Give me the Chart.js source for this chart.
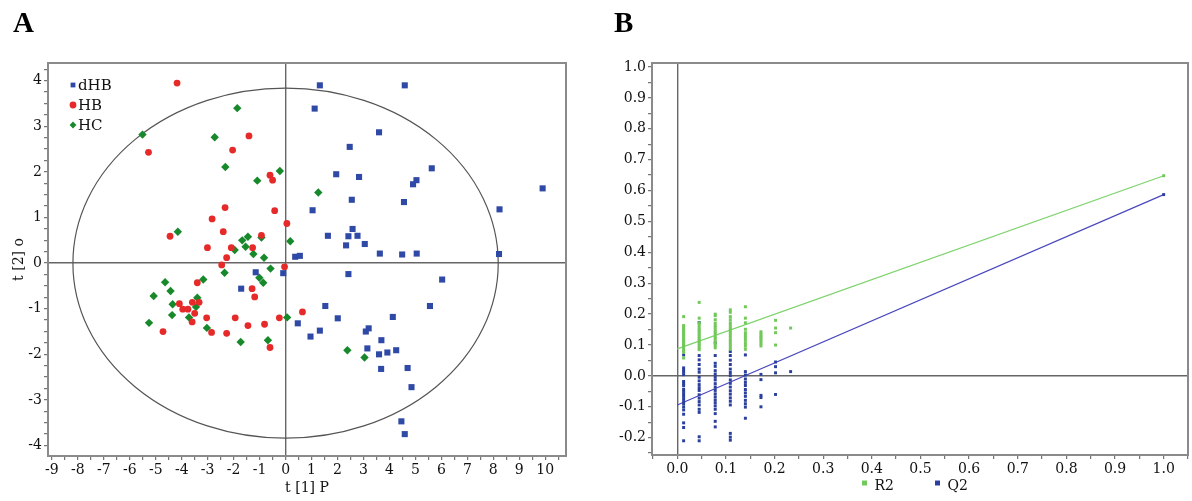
<!DOCTYPE html>
<html>
<head>
<meta charset="utf-8">
<script src="https://cdn.jsdelivr.net/npm/chart.js@4.4.1/dist/chart.umd.min.js"></script>
<style>
  body { margin: 0; background: #fff; }
  #wrap { position: relative; width: 1192px; height: 501px; }
  .panel { position: absolute; top: 0; width: 596px; height: 501px; }
  .tag { position: absolute; top: 8px; font: bold 29px/29px "Liberation Serif", serif; color: #000; }
</style>
</head>
<body>
<div id="wrap">
  <div class="panel" style="left:0"><canvas id="chartA" width="596" height="501"></canvas></div>
  <div class="panel" style="left:596px"><canvas id="chartB" width="596" height="501"></canvas></div>
  <div class="tag" style="left:13px">A</div>
  <div class="tag" style="left:614px">B</div>
</div>
<script>
// ---- panel A : score plot t[1]P vs t[2]o ----
const dhbX = [1.32, 4.59, 1.12, 3.60, 2.47, 5.63, 1.95, 2.83, 5.04, 4.91, 9.90, 2.55, 4.56, 1.04, 8.24, 2.58, 1.63, 2.42, 2.77, 3.05, 2.33, 3.63, 4.49, 5.05, 8.22, 0.37, 0.55, -0.09, -1.15, -1.71, 2.42, 6.03, 5.56, 1.53, 2.01, 4.13, 0.47, 1.32, 0.96, 3.09, 3.20, 3.69, 3.15, 3.60, 3.92, 4.26, 3.68, 4.70, 4.85, 4.46, 4.59];
const dhbY = [3.90, 3.90, 3.39, 2.87, 2.55, 2.08, 1.95, 1.89, 1.82, 1.73, 1.64, 1.39, 1.34, 1.16, 1.18, 0.75, 0.60, 0.59, 0.60, 0.42, 0.39, 0.21, 0.19, 0.21, 0.20, 0.14, 0.16, -0.22, -0.20, -0.56, -0.24, -0.36, -0.94, -0.94, -1.21, -1.18, -1.32, -1.48, -1.61, -1.50, -1.43, -1.69, -1.87, -2.00, -1.96, -1.91, -2.32, -2.30, -2.72, -3.47, -3.75];
const hbX = [-4.18, -5.28, -1.41, -2.04, -0.60, -0.50, -2.33, -0.42, -2.83, 0.05, -2.40, -4.45, -0.93, -3.01, -2.09, -1.27, -2.27, -2.46, -0.04, -3.40, -1.29, -1.19, -4.09, -3.59, -3.33, -3.96, -3.76, -3.50, -3.60, -3.04, -1.94, -0.24, -4.72, -2.85, -2.27, -1.45, -0.81, -0.60, 0.65];
const hbY = [3.95, 2.43, 2.79, 2.48, 1.93, 1.82, 1.22, 1.15, 0.97, 0.87, 0.69, 0.59, 0.61, 0.34, 0.34, 0.34, 0.12, -0.04, -0.08, -0.43, -0.56, -0.74, -0.89, -0.86, -0.86, -1.01, -1.01, -1.10, -1.29, -1.20, -1.20, -1.20, -1.50, -1.52, -1.54, -1.37, -1.34, -1.85, -1.07];
const hcX = [-5.51, -1.86, -2.73, -2.32, -1.09, -0.22, 1.26, -4.15, -1.67, -1.45, -0.93, 0.18, -1.54, -1.24, -0.83, -1.96, -2.35, -0.58, -3.17, -4.64, -4.43, -5.08, -1.01, -0.86, -3.40, -4.35, -3.45, -4.37, -3.72, -5.26, -3.03, -1.73, -0.68, 0.06, 2.38, 3.04];
const hcY = [2.82, 3.40, 2.76, 2.11, 1.81, 2.02, 1.55, 0.69, 0.50, 0.58, 0.56, 0.48, 0.36, 0.20, 0.12, 0.29, -0.21, -0.12, -0.36, -0.42, -0.61, -0.72, -0.32, -0.43, -0.76, -0.90, -0.96, -1.14, -1.19, -1.31, -1.42, -1.73, -1.69, -1.19, -1.91, -2.07];
const ellipseR = [8.19, 3.84]; // Hotelling T2 (95%)

// ---- panel B : permutation test ----
const permX = [0.013, 0.045, 0.078, 0.109, 0.140, 0.172, 0.202, 0.233];
const r2Perm = [
  [0.192, 0.163, 0.158, 0.152, 0.147, 0.141, 0.137, 0.133, 0.128, 0.122, 0.118, 0.113, 0.109, 0.104, 0.099, 0.094, 0.088, 0.082, 0.076, 0.058],
  [0.238, 0.187, 0.172, 0.165, 0.158, 0.151, 0.146, 0.140, 0.133, 0.127, 0.121, 0.116, 0.110, 0.104, 0.098, 0.091, 0.085],
  [0.200, 0.195, 0.182, 0.171, 0.163, 0.157, 0.149, 0.142, 0.136, 0.127, 0.121, 0.114, 0.106, 0.098, 0.091],
  [0.214, 0.206, 0.192, 0.182, 0.172, 0.164, 0.156, 0.149, 0.141, 0.133, 0.125, 0.117, 0.110, 0.102, 0.094, 0.086],
  [0.224, 0.187, 0.172, 0.151, 0.140, 0.131, 0.124, 0.115, 0.105, 0.096, 0.086],
  [0.143, 0.136, 0.130, 0.124, 0.119, 0.112, 0.105, 0.097],
  [0.180, 0.155, 0.140, 0.100],
  [0.155]
];
const q2Perm = [
  [0.068, 0.026, 0.019, 0.012, 0.004, -0.018, -0.024, -0.031, -0.043, -0.050, -0.058, -0.066, -0.074, -0.083, -0.090, -0.100, -0.110, -0.124, -0.152, -0.167, -0.210],
  [0.173, 0.066, 0.052, 0.037, 0.022, 0.012, -0.004, -0.016, -0.028, -0.038, -0.047, -0.061, -0.072, -0.083, -0.094, -0.108, -0.118, -0.197, -0.210],
  [0.107, 0.066, 0.041, 0.031, 0.017, 0.006, -0.004, -0.013, -0.025, -0.036, -0.047, -0.058, -0.068, -0.078, -0.087, -0.097, -0.108, -0.122, -0.147, -0.165],
  [0.079, 0.066, 0.051, 0.037, 0.022, 0.011, 0.001, -0.013, -0.024, -0.036, -0.048, -0.059, -0.071, -0.082, -0.094, -0.186, -0.198, -0.208],
  [0.068, 0.014, 0.003, -0.010, -0.021, -0.031, -0.044, -0.055, -0.066, -0.079, -0.090, -0.101, -0.137],
  [0.005, -0.012, -0.063, -0.070, -0.100],
  [0.045, 0.030, 0.010, -0.060],
  [0.014]
];
const origX = 1.0, r2Orig = 0.648, q2Orig = 0.587;
const lineX = [0, 1];
const r2Line = [0.0875, 0.648];
const q2Line = [-0.094, 0.587];

const SERIF = '"DejaVu Serif", serif';
const tickFont = { family: SERIF, size: 14 };
const zip = (xs, ys) => xs.map((x, i) => ({ x: x, y: ys[i] }));

// frame round chart area + T2 ellipse
const frame = {
  id: 'frame',
  beforeDatasetsDraw(chart, args, opts) {
    const { ctx, scales } = chart;
    if (opts.ellipse) {
      const cx = scales.x.getPixelForValue(0), cy = scales.y.getPixelForValue(0);
      const rx = scales.x.getPixelForValue(opts.ellipse[0]) - cx;
      const ry = cy - scales.y.getPixelForValue(opts.ellipse[1]);
      ctx.save();
      ctx.beginPath();
      ctx.ellipse(cx, cy, rx, ry, 0, 0, Math.PI * 2);
      ctx.strokeStyle = '#555';
      ctx.lineWidth = 1.2;
      ctx.stroke();
      ctx.restore();
    }
  },
  afterDraw(chart) {
    const { ctx, chartArea: a } = chart;
    ctx.save();
    ctx.strokeStyle = '#8a8a8a';
    ctx.lineWidth = 2;
    ctx.strokeRect(a.left, a.top, a.right - a.left, a.bottom - a.top);
    ctx.restore();
  }
};

// small legend drawn from the datasets' own point styles
const miniLegend = {
  id: 'miniLegend',
  afterDraw(chart, args, opts) {
    const ctx = chart.ctx;
    ctx.save();
    ctx.font = opts.font;
    ctx.textBaseline = 'middle';
    opts.items.forEach((di, i) => {
      const ds = chart.data.datasets[di];
      const x = opts.x + i * opts.dx, y = opts.y + i * opts.dy;
      ctx.fillStyle = ds.backgroundColor;
      Chart.helpers.drawPoint(ctx, { pointStyle: ds.pointStyle, radius: opts.r, rotation: 0, borderWidth: 0 }, x, y);
      ctx.fillStyle = '#111';
      ctx.fillText(ds.label, x + opts.gap, y + opts.ty);
    });
    ctx.restore();
  }
};

function axis(min, max, step, isLabel, fmt, extra) {
  return Object.assign({
    type: 'linear', min: min, max: max,
    ticks: {
      stepSize: step, includeBounds: false, autoSkip: false, maxRotation: 0, minRotation: 0,
      color: '#111', font: tickFont, padding: 2,
      callback: v => isLabel(v) ? fmt(v) : ''
    },
    grid: {
      drawOnChartArea: true, tickLength: 4, tickWidth: 1, tickColor: '#555', lineWidth: 1.4,
      color: c => (c.tick && Math.abs(c.tick.value) < 1e-9) ? '#666' : 'rgba(0,0,0,0)'
    },
    border: { display: false }
  }, extra);
}

const isInt = v => Math.abs(v - Math.round(v)) < 1e-9;
const isTenth = v => Math.abs(v * 10 - Math.round(v * 10)) < 1e-6;

new Chart(document.getElementById('chartA'), {
  type: 'scatter',
  data: {
    datasets: [
      { label: 'dHB', data: zip(dhbX, dhbY), pointStyle: 'rect', pointRadius: 4.3, backgroundColor: '#2f49a6', borderColor: '#2f49a6', borderWidth: 0 },
      { label: 'HB', data: zip(hbX, hbY), pointStyle: 'circle', pointRadius: 3.4, backgroundColor: '#e62a2a', borderColor: '#e62a2a', borderWidth: 0 },
      { label: 'HC', data: zip(hcX, hcY), pointStyle: 'rectRot', pointRadius: 4.2, backgroundColor: '#17892b', borderColor: '#17892b', borderWidth: 0 }
    ]
  },
  options: {
    responsive: false,
    animation: false,
    layout: { padding: { left: 0, right: 30, top: 63, bottom: 0 } },
    plugins: {
      legend: { display: false },
      tooltip: { enabled: false },
      frame: { ellipse: ellipseR },
      miniLegend: { items: [0, 1, 2], x: 73, y: 85, dx: 0, dy: 20, r: 3.4, gap: 5, ty: 1, font: '15px ' + SERIF }
    },
    scales: {
      x: axis(-9.15, 10.8, 0.5, isInt, v => String(v), {
        title: { display: true, text: 't [1] P', color: '#111', font: { family: SERIF, size: 14 }, padding: { top: 0, bottom: 4 } },
        afterFit: s => { s.height = 45; }
      }),
      y: axis(-4.23, 4.39, 0.25, isInt, v => String(v), {
        title: { display: true, text: 't [2] o', color: '#111', font: { family: SERIF, size: 14 }, padding: { top: 11, bottom: 0 } },
        afterFit: s => { s.width = 48; }
      })
    }
  },
  plugins: [frame, miniLegend]
});

const r2Pts = permX.flatMap((x, i) => r2Perm[i].map(y => ({ x: x, y: y }))).concat([{ x: origX, y: r2Orig }]);
const q2Pts = permX.flatMap((x, i) => q2Perm[i].map(y => ({ x: x, y: y }))).concat([{ x: origX, y: q2Orig }]);

new Chart(document.getElementById('chartB'), {
  type: 'scatter',
  data: {
    datasets: [
      { label: 'R2', data: r2Pts, pointStyle: 'rect', pointRadius: 2.1, backgroundColor: '#72c95a', borderWidth: 0 },
      { label: 'Q2', data: q2Pts, pointStyle: 'rect', pointRadius: 2.1, backgroundColor: '#2b3f9c', borderWidth: 0 },
      { label: 'R2 fit', data: zip(lineX, r2Line), showLine: true, pointRadius: 0, borderColor: '#7ed36c', borderWidth: 1.3 },
      { label: 'Q2 fit', data: zip(lineX, q2Line), showLine: true, pointRadius: 0, borderColor: '#4a48bd', borderWidth: 1.2 }
    ]
  },
  options: {
    responsive: false,
    animation: false,
    layout: { padding: { left: 0, right: 2, top: 63, bottom: 0 } },
    plugins: {
      legend: { display: false },
      tooltip: { enabled: false },
      frame: {},
      miniLegend: { items: [0, 1], x: 268.5, y: 483, dx: 73, dy: 0, r: 3.5, gap: 10, ty: 3, font: '14px ' + SERIF }
    },
    scales: {
      x: axis(-0.052, 1.05, 0.05, isTenth, v => v.toFixed(1), {
        afterFit: s => { s.height = 46; }
      }),
      y: axis(-0.256, 1.013, 0.05, isTenth, v => v.toFixed(1), {
        afterFit: s => { s.width = 56; }
      })
    }
  },
  plugins: [frame, miniLegend]
});
</script>
</body>
</html>
